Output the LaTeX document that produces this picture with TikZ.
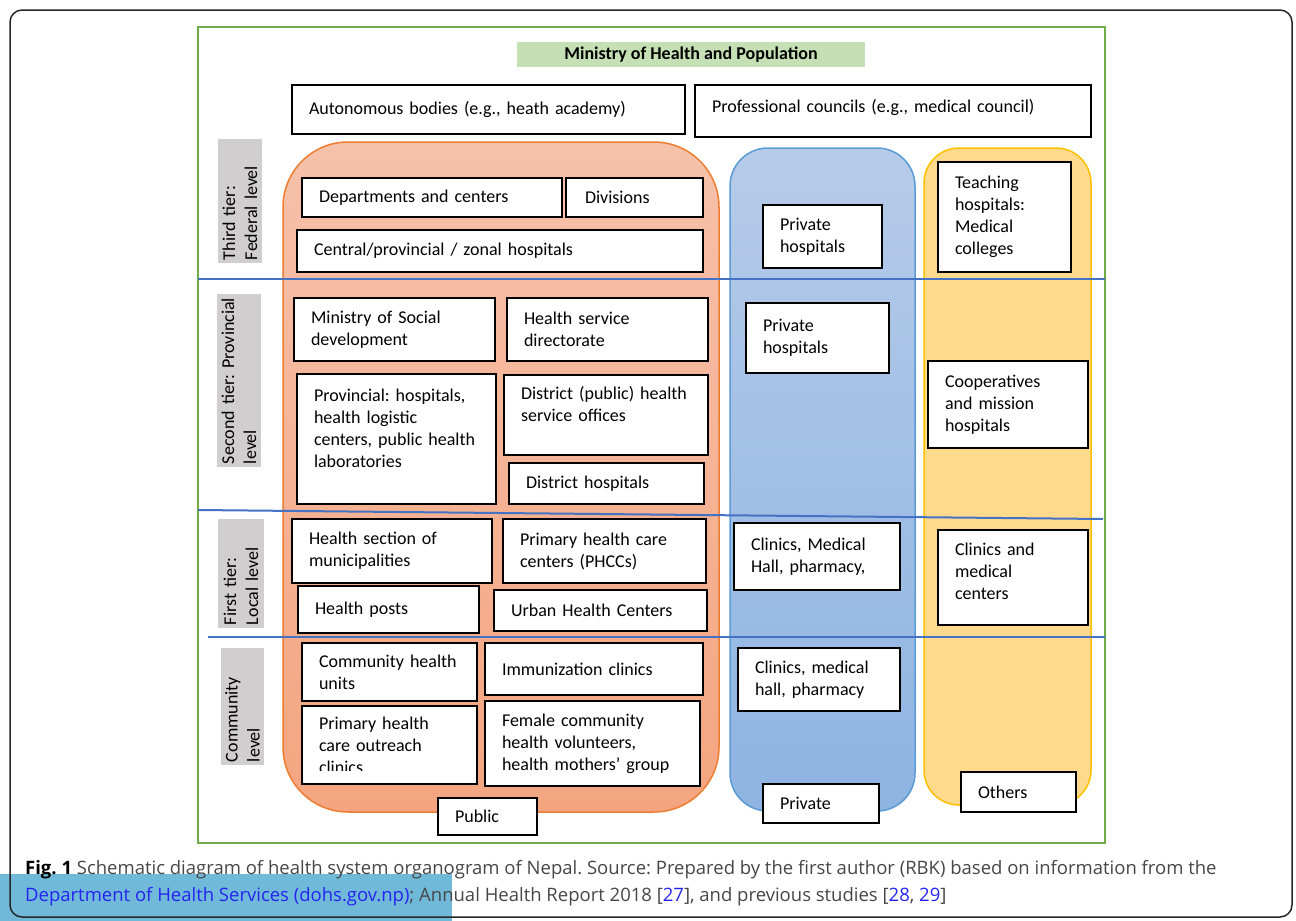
\documentclass[tikz,border=0pt]{standalone}
\usepackage{fontspec}
\setmainfont{Carlito}
\newfontfamily\capfont{Open Sans}
\frenchspacing

\definecolor{frgreen}{RGB}{112,173,71}
\definecolor{tierline}{RGB}{68,114,196}
\definecolor{tiergray}{RGB}{208,206,206}
\definecolor{mohgreen}{RGB}{197,224,180}
\definecolor{pubtop}{RGB}{246,193,170}
\definecolor{pubbot}{RGB}{244,165,128}
\definecolor{pubedge}{RGB}{237,125,49}
\definecolor{pritop}{RGB}{182,203,233}
\definecolor{pribot}{RGB}{142,180,226}
\definecolor{priedge}{RGB}{91,155,213}
\definecolor{othfill}{RGB}{255,217,140}
\definecolor{othedge}{RGB}{255,192,0}
\definecolor{capgray}{RGB}{70,70,70}
\definecolor{capblue}{RGB}{36,36,240}
\definecolor{capband}{RGB}{112,185,217}

\begin{document}
\frenchspacing
\begin{tikzpicture}[x=1pt, y=-1pt,
  box/.style={draw, line width=2pt, fill=white, anchor=north west, align=left, inner xsep=17pt, inner ysep=0pt, outer sep=0pt, font=\fontsize{18}{22}\selectfont},
  tier/.style={fill=tiergray, rotate=90, align=left, inner xsep=3pt, inner ysep=0pt, font=\fontsize{18}{22}\selectfont},
  col/.style={line width=1.5pt},
  sep/.style={draw=tierline, line width=2pt},
  captxt/.style={anchor=west, inner sep=0pt, text=capgray, font=\capfont\fontsize{18.5}{22}\selectfont}]
\useasboundingbox (0,0) rectangle (1296,921);
\fill[capband] (0,874) rectangle (452,921);
\draw[black!85, line width=1.5pt, rounded corners=12pt] (10,10) rectangle (1292,917);
\draw[frgreen, line width=2pt] (198,27) rectangle (1105,843);

\draw[col, draw=pubedge, top color=pubtop, bottom color=pubbot, rounded corners=65pt] (283,142) rectangle (719,812);
\draw[col, draw=priedge, top color=pritop, bottom color=pribot, rounded corners=38pt] (730,148) rectangle (915,811);
\draw[col, draw=othedge, fill=othfill, rounded corners=35pt] (924,148) rectangle (1091,805);

\draw[sep] (198,279) -- (1105,279);
\draw[sep] (198,510) -- (1103,519);
\draw[sep] (208,637) -- (1105,637);

\node[fill=mohgreen, minimum width=348pt, minimum height=25pt, inner sep=0pt, font=\bfseries\fontsize{18}{22}\selectfont] (moh) at (691,54.5) {Ministry of Health and Population};
\node[box, text width=359pt, minimum height=49pt] (auto) at (292,85) {Autonomous bodies (e.g., heath academy)};
\node[box, text width=362pt, minimum height=52pt] (prof) at (695,85) {Professional councils (e.g., medical council)\\[-12pt]\mbox{}};

\node[tier, minimum width=124pt, minimum height=44pt, text width=118pt] (t3) at (240,201) {Third tier:\\Federal level};
\node[tier, minimum width=173pt, minimum height=44pt, text width=167pt] (t2) at (239,380.5) {\mbox{Second tier: Provincial}\\level};
\node[tier, minimum width=109pt, minimum height=46pt, text width=103pt] (t1) at (241,573.5) {First tier:\\Local level};
\node[tier, minimum width=117pt, minimum height=43pt, text width=111pt] (tc) at (242.5,706.5) {Community\\level};

\node[box, text width=226pt, minimum height=39pt] (dep) at (302,178) {Departments and centers};
\node[box, text width=103pt, minimum height=39pt] (div) at (566,178) {\hspace{2pt}Divisions};
\node[box, text width=372pt, minimum height=42pt] (cen) at (297,230) {Central/provincial / zonal hospitals};
\node[box, text width=167pt, minimum height=63pt] (mosd) at (294,298) {Ministry of Social\\development};
\node[box, text width=167pt, minimum height=63pt] (hsd) at (507,298) {Health service\\directorate};
\node[box, text width=165pt, minimum height=130pt] (prov) at (297,374) {Provincial: hospitals,\\health logistic\\\mbox{centers, public health}\\laboratories\\\mbox{}};
\node[box, text width=170pt, minimum height=80pt] (dpho) at (504,375) {\mbox{District (public) health}\\service offices\\\mbox{}};
\node[box, text width=161pt, minimum height=41pt] (dh) at (509,463) {District hospitals};
\node[box, text width=166pt, minimum height=64pt] (hsm) at (292,519) {Health section of\\municipalities};
\node[box, text width=169pt, minimum height=64pt] (phcc) at (503,519) {Primary health care\\centers (PHCCs)};
\node[box, text width=147pt, minimum height=47pt] (hp) at (298,586) {Health posts};
\node[box, text width=179pt, minimum height=41pt] (uhc) at (494,590) {Urban Health Centers};
\node[box, text width=141pt, minimum height=58pt] (chu) at (302,643) {\mbox{Community health}\\units};
\node[box, text width=184pt, minimum height=52pt] (imm) at (485,643) {Immunization clinics};
\node[box, text width=141pt, minimum height=78pt] (out) at (302,706) {Primary health\\care outreach\\clinics};
\fill[white] ([shift={(2,-13)}]out.south west) rectangle ([shift={(-2,-1)}]out.south east);
\node[box, text width=181pt, minimum height=85pt] (fchv) at (485,701) {Female community\\health volunteers,\\\mbox{health mothers’ group}};
\node[box, text width=65pt, minimum height=37pt] (pub) at (438,798) {Public};

\node[box, text width=85pt, minimum height=63pt] (ph1) at (763,205) {Private\\hospitals};
\node[box, text width=109pt, minimum height=70pt] (ph2) at (746,303) {Private\\hospitals};
\node[box, text width=132pt, minimum height=67pt] (clm) at (734,523) {Clinics, Medical\\Hall, pharmacy,};
\node[box, text width=128pt, minimum height=63pt] (clh) at (738,648) {Clinics, medical\\hall, pharmacy};
\node[box, text width=82pt, minimum height=39pt] (prv) at (763,784) {Private};

\node[box, text width=99pt, minimum height=110pt] (tch) at (938,162) {Teaching\\hospitals:\\Medical\\colleges};
\node[box, text width=126pt, minimum height=87pt] (coop) at (928,361) {Cooperatives\\and mission\\hospitals};
\node[box, text width=116pt, minimum height=95pt] (cmc) at (938,530) {Clinics and\\medical\\centers\\[-10pt]\mbox{}};
\node[box, text width=81pt, minimum height=40pt] (oth) at (961,772) {Others};

\node[captxt] (cap1) at (25,870) {\textcolor{black}{\textbf{Fig. 1}} Schematic diagram of health system organogram of Nepal. Source: Prepared by the first author (RBK) based on information from the};
\node[captxt] (cap2) at (25,897) {\textcolor{capblue}{Department of Health Services (dohs.gov.np)}; Annual Health Report 2018 [\textcolor{capblue}{27}], and previous studies [\textcolor{capblue}{28}, \textcolor{capblue}{29}]};
\end{tikzpicture}
\end{document}
